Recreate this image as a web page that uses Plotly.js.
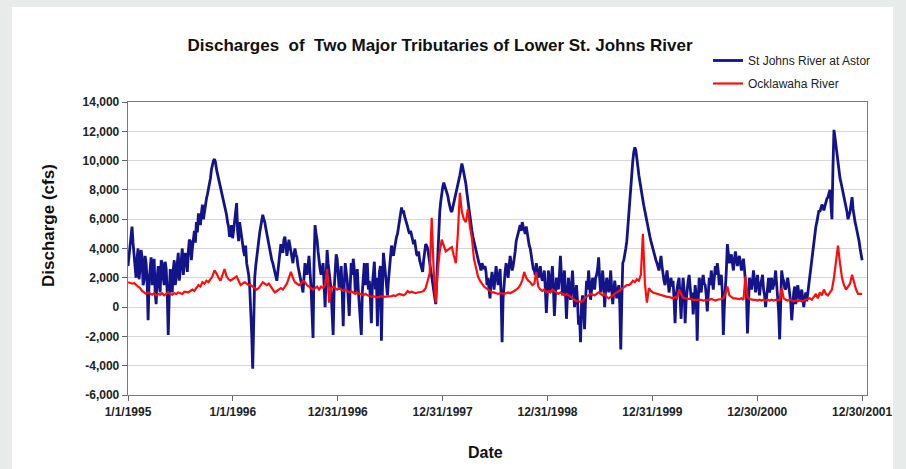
<!DOCTYPE html>
<html>
<head>
<meta charset="utf-8">
<script src="https://cdn.plot.ly/plotly-3.0.1.min.js"></script>
<style>
  html, body { margin: 0; padding: 0; background: #e7ebe9; }
  #card { position: absolute; left: 12px; top: 7px; width: 881px; height: 462px; background: #ffffff; }
  #chart { position: absolute; left: 0; top: 0; width: 906px; height: 469px; }
</style>
</head>
<body>
<div id="card"></div>
<div id="chart"></div>
<script>
// Discharge (cfs) from 1 Jan 1995: St Johns sampled twice a week, Ocklawaha weekly
const startDate = '1995-01-01';
const astorStepDays = 3.5;
const ocklawahaStepDays = 7;

const stJohnsAstor = [
  2800, 3600, 4200, 4600, 5500, 4400, 3600, 2400, 2000, 3300, 4000, 1900, 2600, 3900, 3400, 1500, 1800, 3500, 3000, 1800,
  -900, 1800, 2500, 3400, 1500, 2200, 3300, 1000, 200, 2000, 2800, 1600, 1000, 3200, 3000, 2000, 1500, 3100, 2600, 1000,
  -1900, 800, 2600, 1600, 1000, 2600, 3200, 1500, 2000, 3000, 3700, 1800, 2400, 3300, 4000, 2200, 2800, 3700, 3300, 2400,
  3800, 4600, 4500, 3200, 4000, 4800, 5200, 4400, 5800, 5100, 6400, 5900, 5600, 6400, 7000, 6000, 6600, 7100, 7400, 7700,
  8000, 8300, 8800, 9400, 9800, 10000, 10100, 9900, 9400, 9100, 8700, 8400, 8000, 7800, 7400, 7200, 6900, 6500, 6300, 5800,
  5500, 4800, 5000, 5600, 4700, 5200, 6000, 6500, 7100, 5200, 4500, 5800, 5200, 4600, 4400, 3800, 3500, 4200, 3000, 2600,
  2200, 1400, 0, -1800, -4200, -500, 2000, 2800, 3500, 4000, 4500, 5100, 5500, 6000, 6300, 6000, 5800, 5400, 5000, 4600,
  4400, 4000, 3600, 3200, 3000, 2700, 2400, 2000, 1800, 2400, 3000, 3800, 4300, 4000, 3700, 4600, 4800, 4200, 3500, 4000,
  4600, 4200, 3800, 3300, 3000, 3600, 4000, 3600, 3400, 2800, 2500, 2000, 1800, 1400, 1000, 2000, 3000, 2600, 2200, 2800,
  3500, 2400, 1400, -400, -2100, 3000, 5600, 5000, 4600, 3800, 3000, 2600, 2200, 2600, 3000, 1500, 0, 2000,
  3900, 3000, 2500, 1800, 1000, -600, -1900, 1200, 2800, 3600, 3300, 2200, 1200, 2000, 2800, 1000, -1300, 1500, 3000, 2400,
  1800, 600, -600, 1500, 3000, 2200, 3300, 2600, 1000, 1800, 2600, 1200, 200, -800, -1900, 1000, 2500, 3000, 1500, 2400,
  3000, 1200, 1800, 600, -1100, 1500, 2500, 3100, 1200, 2000, -1300, 1000, 2400, 2800, -2300, 1200, 3700, 3000, 2200, 1400,
  800, 1800, 2600, 3600, 4200, 3800, 3500, 4000, 4500, 4800, 5000, 5400, 5800, 6200, 6800, 6400, 6600, 6200, 6000, 5800,
  5500, 5200, 5000, 5200, 4800, 4500, 4300, 4600, 4000, 3600, 3500, 3800, 3200, 2900, 2700, 2400, 3200, 3800, 4300, 4200,
  4000, 3500, 3000, 2400, 2000, 1500, 1200, 700, 200, 1800, 3500, 5000, 6500, 7200, 7800, 8200, 8500, 8300, 8100, 7800,
  7600, 7200, 6800, 6600, 6500, 6800, 7000, 7300, 7600, 7900, 8200, 8600, 9000, 9400, 9800, 9500, 9200, 8800, 8400, 7800,
  7200, 6600, 6000, 5600, 5200, 4800, 4500, 4200, 3800, 3400, 3200, 3000, 2800, 2500, 3000, 2800, 2600, 2800, 2400, 1500,
  2000, 1200, 600, 1800, 2400, 1800, 1200, 2000, 2800, 2200, 1500, 2000, 2600, 800, -2400, 600, 1800, 2400, 3000, 2600,
  2000, 2800, 3500, 3000, 2500, 2800, 3200, 3800, 4500, 4800, 5200, 5500, 5600, 5200, 5800, 5500, 5200, 5000, 5500, 5000,
  4600, 4200, 4000, 3400, 3000, 2600, 2500, 2200, 3000, 2600, 2000, 2300, 2800, 2100, 1800, 2000, 2500, 1200, -400, 1000,
  2500, 1800, 1000, 2000, 2800, 1400, -600, 800, 2000, 1600, 1200, 2200, 3500, 2200, 800, 1600, 2500, 1000, -800, 800,
  2000, 1200, 500, 1500, 2500, 1200, 0, 700, 1500, 400, -1200, -600, -2400, 200, 800, -200, -1500, 500, 1800, 1200,
  2500, 1600, 500, 1200, 2000, 1500, 1200, 2000, 2200, 2600, 3400, 2000, 1000, 1600, 2500, 1500, 0, 1200, 2000, 1600,
  1000, 1600, 2500, 1200, 200, 1000, 1800, 1200, 600, 1000, 1500, 200, -2900, 400, 3000, 3200, 3500, 4000, 4500, 5500,
  6500, 7600, 8500, 9300, 10000, 10600, 10900, 10700, 10300, 9600, 9000, 8500, 8000, 7600, 7300, 6900, 6500, 6200, 5800, 5500,
  5200, 4800, 4500, 4200, 4000, 3700, 3500, 3200, 3000, 2700, 2500, 3000, 3500, 2800, 2000, 1800, 1500, 2000, 2500, 1800,
  1000, 1500, 2000, 1400, 1800, 500, -1100, 800, 1500, 1700, 2000, 500, -800, 1000, 2000, 1200, -1100, 400,
  1500, 1800, 2200, 1200, 600, 1000, -500, 400, 1500, 800, -2300, 500, 2000, 1500, 1000, 1800, 2200, 1600, 1500, 800,
  -300, 800, 2000, 1500, 2500, 1800, 1200, 2000, 2800, 2200, 3000, 2400, 1500, 2000, 2200, 1000, -1900, 0, 1000, 2500,
  4300, 3600, 3000, 3300, 3600, 3000, 2500, 3200, 3800, 3300, 2800, 3200, 3500, 3000, 2500, 2900, 3300, 2600, 1500, 800,
  -1800, 600, 2000, 1500, 1200, 1800, 2500, 1800, 1000, 1600, 2200, 1400, 800, 1500, 1800, 2200, 1200, 800, 0, 800,
  1500, 2000, 1000, 1700, 2000, 1200, 1500, 1800, 2500, 1500, 1000, -300, -2200, 600, 2500, 2000, 1800, 1300, 1200, 1600,
  2000, 1500, 1000, 300, -900, 300, 1000, 1400, 200, 800, 1500, 1000, 500, 800, 1200, 500, 0, 600, 1000, 400,
  1000, 1500, 2000, 2500, 3000, 3800, 4500, 5000, 5500, 5800, 6200, 6600, 6500, 6800, 7000, 6800, 6600, 6900, 7200, 7400,
  7500, 7800, 8000, 7000, 6000, 9500, 12100, 11600, 11000, 10400, 9800, 9300, 8800, 8500, 8200, 7900, 7600, 7300, 7000, 6500,
  6000, 6200, 6500, 7000, 7500, 6700, 6000, 5800, 5500, 5200, 5000, 4500, 4000, 3600, 3200
];

const ocklawaha = [
  1700, 1650, 1600, 1650, 1500, 1400, 1300, 1100, 1000, 900,
  1000, 900, 850, 950, 800, 900, 850, 950, 800, 900,
  1000, 900, 850, 950, 900, 1000, 950, 900, 1050, 1000,
  1000, 1100, 1200, 1100, 1300, 1500, 1400, 1700, 1600, 1800,
  1700, 1900, 2100, 2500, 2300, 2000, 1800, 2200, 2600, 2100,
  1900, 1800, 1900, 2000, 2100, 1800, 1500, 1600, 1700, 1600,
  1500, 1500, 1400, 1300, 1200, 1300, 1500, 1700, 1600, 1500,
  1600, 1400, 1200, 1000, 1100, 1200, 1300, 1200, 1400, 1600,
  2000, 2400, 2000, 1700, 1600, 1500, 1600, 1800, 1700, 1500,
  1400, 1300, 1200, 1300, 1400, 1200, 1400, 1300, 1500,
  2600, 300, 1300, 1400, 1300, 1200, 1300, 1200, 1100, 1200,
  1100, 1000, 1100, 1000, 900, 1000, 900, 900, 800, 900,
  800, 750, 700, 750, 700, 650, 700, 750, 700, 700,
  750, 700, 750, 800, 750, 850, 900, 850, 800, 900,
  1100, 1000, 1050, 1000, 950, 1000, 1000, 1050, 1100, 1300,
  1800, 2300, 6100, 2500, 300, 2500, 3800, 4600, 4200, 3800,
  3900, 4000, 4100, 3500, 3000, 5000, 7800, 6500, 6000, 5800,
  6700, 5500, 4700, 3300, 2600, 2100, 1800, 1600, 1400, 1300,
  1200, 1100, 1000, 1000, 950, 900, 950, 900, 900, 950,
  1000, 950, 1000, 1100, 1200, 1300, 1500, 1800, 2400, 2000,
  1800, 1700, 1500, 1600, 2400, 1400, 1200, 1100, 1200, 1000,
  1100, 1000, 1200, 1100, 1000, 900, 1000, 900, 800, 900,
  800, 700, 600, 500, 400, 400, 350, 400, 600, 700,
  800, 900, 850, 800, 900, 1000, 900, 800, 900, 700,
  600, 700, 800, 900, 1000, 1100, 1200, 1300, 1400, 1500,
  1500, 1600, 1800, 1700, 1900, 1800, 2200, 5000, 1600, 300,
  1300, 1100, 1000, 950, 900, 850, 800, 800, 750, 700,
  700, 650, 600, 700, 600, 1200, 900, 650, 600,
  600, 550, 550, 500, 500, 550, 500, 500, 450, 500,
  500, 500, 550, 500, 450, 500, 500, 550, 600, 900,
  1400, 800, 700, 600, 600, 550, 550, 600, 500, 2100,
  700, 550, 500, 500, 500, 450, 500, 450, 500, 450,
  500, 450, 500, 450, 500, 500, 500, 1300, 600, 500,
  450, 500, 450, 400, 450, 400, 450, 400, 450, 500,
  500, 600, 500, 700, 900, 600, 1000, 800, 1200, 900,
  800, 1000, 1200, 2000, 3200, 4200, 3000, 2000, 1500, 1200,
  1400, 1600, 2200, 1700, 1200, 900, 900, 900
];

const seriesNames = ['St Johns River at Astor', 'Ocklawaha River'];

const xTickDates = ['1995-01-01', '1996-01-01', '1996-12-31', '1997-12-31',
                    '1998-12-31', '1999-12-31', '2000-12-30', '2001-12-30'];
const xTickLabels = ['1/1/1995', '1/1/1996', '12/31/1996', '12/31/1997',
                     '12/31/1998', '12/31/1999', '12/30/2000', '12/30/2001'];

const yTickValues = [-6000, -4000, -2000, 0, 2000, 4000, 6000, 8000, 10000, 12000, 14000];
const yTickLabels = ['-6,000', '-4,000', '-2,000', '0', '2,000', '4,000',
                     '6,000', '8,000', '10,000', '12,000', '14,000'];

// sample timestamps for a regularly sampled series
function sampleDates(n, stepDays) {
  const t0 = Date.parse(startDate + 'T00:00:00Z');
  const out = [];
  for (let i = 0; i < n; i++) {
    const iso = new Date(t0 + i * stepDays * 86400000).toISOString();
    out.push(iso.slice(0, 10) + ' ' + iso.slice(11, 16));
  }
  return out;
}

const FONT = 'Liberation Sans, Arial, sans-serif';
const W = 906, H = 469;

const traces = [
  {
    x: sampleDates(stJohnsAstor.length, astorStepDays), y: stJohnsAstor,
    name: seriesNames[0], type: 'scatter', mode: 'lines',
    line: { color: '#14148a', width: 2.8 }, legendgroup: 'a'
  },
  {
    x: sampleDates(ocklawaha.length, ocklawahaStepDays), y: ocklawaha,
    name: seriesNames[1], type: 'scatter', mode: 'lines',
    line: { color: '#ff0d0d', width: 2.2 }, legendgroup: 'b'
  }
];

const layout = {
  width: W, height: H,
  margin: { l: 128, r: 39, t: 102, b: 74 },
  paper_bgcolor: 'rgba(0,0,0,0)',
  plot_bgcolor: '#ffffff',
  font: { family: FONT, color: '#1a1a1a' },
  title: {
    text: 'Discharges  of  Two Major Tributaries of Lower St. Johns River',
    font: { family: FONT, size: 17, weight: 'bold', color: '#111' },
    x: 440 / W, xref: 'container', xanchor: 'center',
    y: 1 - 45 / H, yref: 'container', yanchor: 'middle'
  },
  xaxis: {
    type: 'date',
    range: ['1995-01-01', '2002-01-16'],
    tickmode: 'array', tickvals: xTickDates, ticktext: xTickLabels,
    ticks: 'outside', ticklen: 5, tickcolor: '#666',
    tickfont: { family: FONT, size: 12, weight: 'bold', color: '#222' },
    showgrid: false, zeroline: false,
    showline: true, linecolor: '#7a7a7a', linewidth: 1.3, mirror: true
  },
  yaxis: {
    range: [-6000, 14000],
    tickmode: 'array', tickvals: yTickValues, ticktext: yTickLabels,
    ticks: 'outside', ticklen: 5, tickcolor: '#666',
    tickfont: { family: FONT, size: 12, weight: 'bold', color: '#222' },
    showgrid: true, gridcolor: '#d6d6d6', gridwidth: 1,
    zeroline: false,
    showline: true, linecolor: '#7a7a7a', linewidth: 1.3, mirror: true
  },
  annotations: [
    {
      text: 'Discharge (cfs)', textangle: -90, showarrow: false,
      xref: 'paper', yref: 'paper',
      x: (48 - 128) / 739, y: (395 - 226) / 293,
      xanchor: 'center', yanchor: 'middle',
      font: { family: FONT, size: 17, weight: 'bold', color: '#111' }
    },
    {
      text: 'Date', showarrow: false,
      xref: 'paper', yref: 'paper',
      x: (485 - 128) / 739, y: -(452 - 395) / 293,
      xanchor: 'center', yanchor: 'middle',
      font: { family: FONT, size: 16, weight: 'bold', color: '#111' }
    }
  ],
  showlegend: true,
  legend: {
    x: (708 - 128) / 739, xanchor: 'left',
    y: 1 + (102 - 46) / 293, yanchor: 'top',
    bgcolor: 'rgba(0,0,0,0)',
    font: { family: FONT, size: 12, color: '#222' },
    tracegroupgap: 4
  }
};

Plotly.newPlot('chart', traces, layout, { displayModeBar: false, staticPlot: true });
</script>
</body>
</html>
